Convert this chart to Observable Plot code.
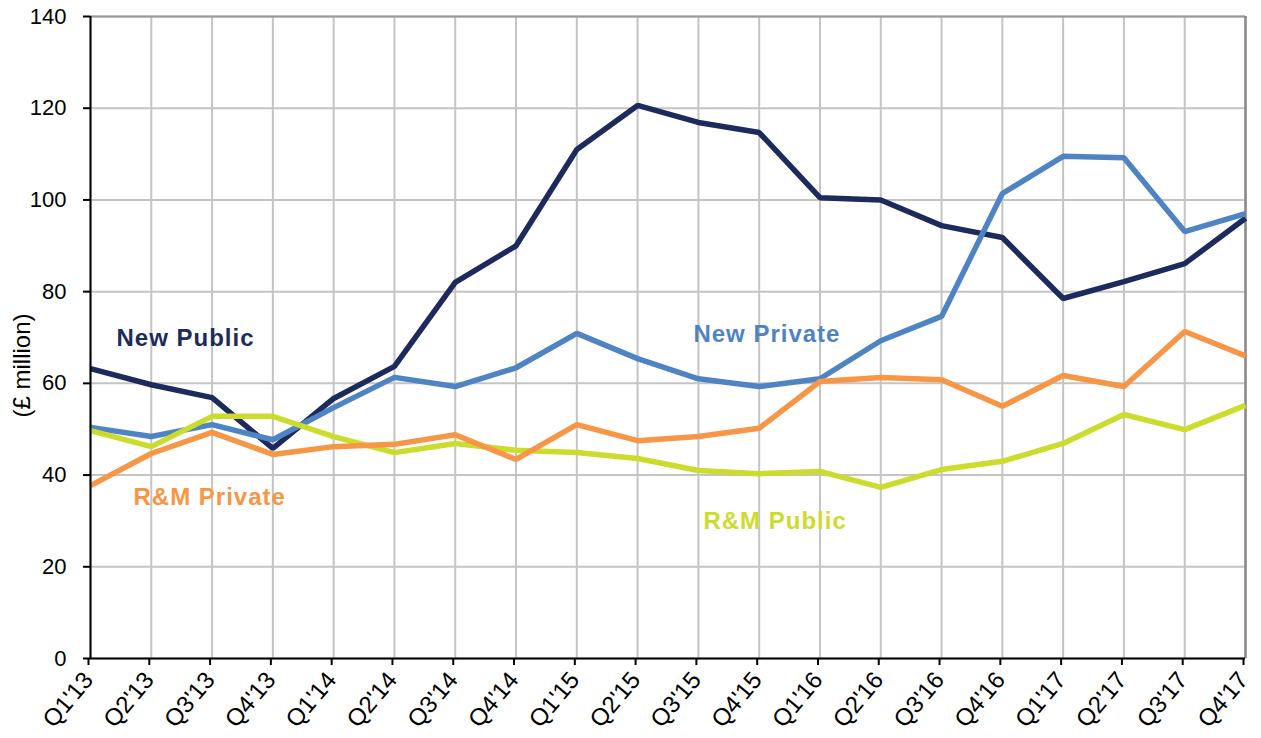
<!DOCTYPE html>
<html>
<head>
<meta charset="utf-8">
<script src="https://cdn.jsdelivr.net/npm/d3@7"></script>
<script src="https://cdn.jsdelivr.net/npm/@observablehq/plot@0.6"></script>
<style>
  html, body { margin: 0; padding: 0; background: #fff; overflow: hidden; }
</style>
</head>
<body>
<div id="chart"></div>
<script>
const quarters = ["Q1'13","Q2'13","Q3'13","Q4'13","Q1'14","Q2'14","Q3'14","Q4'14","Q1'15","Q2'15","Q3'15","Q4'15","Q1'16","Q2'16","Q3'16","Q4'16","Q1'17","Q2'17","Q3'17","Q4'17"];
const newPublic  = [63.2, 59.7, 56.9, 45.8, 56.7, 63.7, 82.0, 90.0, 111.0, 120.6, 116.9, 114.7, 100.5, 100.0, 94.4, 91.8, 78.5, 82.2, 86.1, 96.0];
const newPrivate = [50.4, 48.4, 51.0, 47.7, 54.7, 61.3, 59.3, 63.4, 70.9, 65.4, 61.0, 59.3, 61.0, 69.3, 74.6, 101.4, 109.5, 109.2, 93.1, 97.0];
const rmPublic   = [49.7, 46.2, 52.8, 52.8, 48.4, 44.9, 46.9, 45.4, 44.9, 43.6, 41.0, 40.3, 40.8, 37.3, 41.2, 43.0, 46.9, 53.2, 49.9, 55.2];
const rmPrivate  = [37.7, 44.7, 49.3, 44.5, 46.2, 46.7, 48.8, 43.4, 51.0, 47.5, 48.4, 50.2, 60.4, 61.3, 60.8, 55.0, 61.7, 59.3, 71.3, 66.0];
const seriesNames  = ["New Public", "New Private", "R&M Public", "R&M Private"];
const seriesColors = ["#1c2a5c", "#4f84c4", "#cbdc2c", "#f79646"];
const yTicks = [0, 20, 40, 60, 80, 100, 120, 140];
const yLabel = "(£ million)";
const yLabelAt = 63.9;

// series label annotations (name, anchor quarter, anchor value, horizontal nudge)
const labelNames    = ["New Public", "New Private", "R&M Private", "R&M Public"];
const labelQuarters = ["Q1'13", "Q3'15", "Q1'13", "Q3'15"];
const labelValues   = [69.8, 70.7, 35.1, 29.9];
const labelShift    = [26, -5, 43, 5];

const seriesValues = [newPublic, newPrivate, rmPublic, rmPrivate];
const data = seriesNames.flatMap((s, si) =>
  quarters.map((q, i) => ({series: s, q, v: seriesValues[si][i]})));

const chart = Plot.plot({
  width: 1261,
  height: 738,
  marginLeft: 90,
  marginRight: 16,
  marginTop: 16,
  marginBottom: 80,
  style: {fontFamily: "'Liberation Sans', Arial, sans-serif", fontSize: "22px", color: "#000", background: "#fff"},
  x: {type: "point", domain: quarters, padding: 0, round: false, label: null},
  y: {domain: [0, 140], label: null},
  color: {domain: seriesNames, range: seriesColors},
  marks: [
    Plot.gridY(yTicks, {stroke: "#c4c4c4", strokeOpacity: 1, strokeWidth: 2}),
    Plot.gridX(quarters, {stroke: "#c4c4c4", strokeOpacity: 1, strokeWidth: 2}),
    Plot.ruleY([140], {stroke: "#9a9a9a", strokeWidth: 2}),
    Plot.ruleX([quarters[quarters.length - 1]], {stroke: "#8a8a8a", strokeWidth: 2.5}),
    Plot.axisY({ticks: yTicks, tickSize: 7, tickPadding: 17, label: null, strokeWidth: 2, fontSize: 22}),
    Plot.axisX({tickSize: 7, tickRotate: -50, tickPadding: 10, dx: -2, label: null, strokeWidth: 2, fontSize: 24}),
    ...seriesNames.map((s) => Plot.line(data.filter(d => d.series === s), {
      x: "q", y: "v", stroke: "series", strokeWidth: 5.5, strokeLinejoin: "miter", strokeLinecap: "butt"
    })),
    Plot.ruleY([0], {stroke: "#000", strokeWidth: 2}),
    Plot.ruleX([quarters[0]], {stroke: "#000", strokeWidth: 2}),
    ...labelNames.map((n, i) => Plot.text([{name: n, q: labelQuarters[i], v: labelValues[i]}], {
      x: "q", y: "v", text: "name", dx: labelShift[i], textAnchor: "start",
      fill: seriesColors[seriesNames.indexOf(n)], fontWeight: "bold", fontSize: 24, className: "series-label"
    })),
    Plot.text([{t: yLabel, v: yLabelAt}], {y: "v", text: "t", frameAnchor: "left", textAnchor: "middle", dx: -68, rotate: -90, fontSize: 24, className: "y-title"})
  ]
});

d3.select(chart).selectAll(".series-label text").attr("letter-spacing", "1px");
d3.select(chart).selectAll('[aria-label="x-axis tick label"] text').attr("font-size", 24);
d3.select(chart).selectAll('[aria-label="y-axis tick label"] text').attr("font-size", 22);
document.getElementById("chart").appendChild(chart);
</script>
</body>
</html>
